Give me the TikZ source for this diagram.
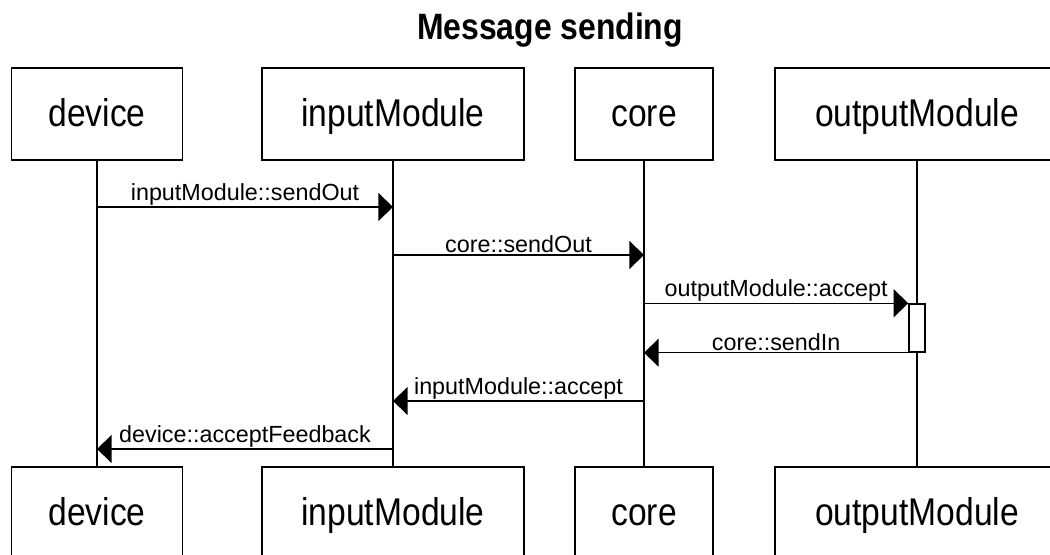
\documentclass[tikz,border=0pt]{standalone}
\usepackage{fontspec}
\setmainfont{Liberation Sans}
\newfontfamily\condfont[FakeStretch=0.87]{Liberation Sans}
\usetikzlibrary{arrows.meta}
\begin{document}
\begin{tikzpicture}[x=0.75pt,y=-0.75pt,
  actor/.style={draw, line width=1.1pt, minimum height=69pt, inner sep=0pt,
    font=\condfont\fontsize{29}{34}\selectfont, fill=white,
    text height=26pt, text depth=7pt},
  life/.style={line width=1.1pt},
  msg/.style={line width=1.1pt, -{Triangle[length=11pt,width=21pt]}},
  lbl/.style={font=\fontsize{17.5}{20}\selectfont, inner sep=1pt, anchor=south},
  act/.style={draw, fill=white, line width=1.1pt, minimum width=12pt,
    minimum height=36pt, inner sep=0pt},
  ]
\useasboundingbox (0,0) rectangle (1050,555);
\clip (0,0) rectangle (1050,555);
\node[font=\condfont\bfseries\fontsize{27.5}{32}\selectfont, inner sep=0pt, anchor=base] (title) at (550,40) {Message sending};
% top actors
\node[actor, minimum width=128.25pt] (devT) at (97,114) {device};
\node[actor, minimum width=196.5pt] (inT) at (393,114) {inputModule};
\node[actor, minimum width=103.5pt] (coreT) at (644,114) {core};
\node[actor, minimum width=213pt] (outT) at (917,114) {outputModule};
% bottom actors
\node[actor, minimum width=128.25pt] (devB) at (97,513) {device};
\node[actor, minimum width=196.5pt] (inB) at (393,513) {inputModule};
\node[actor, minimum width=103.5pt] (coreB) at (644,513) {core};
\node[actor, minimum width=213pt] (outB) at (917,513) {outputModule};
% lifelines
\draw[life] (devT.south) -- (devB.north);
\draw[life] (inT.south) -- (inB.north);
\draw[life] (coreT.south) -- (coreB.north);
\draw[life] (outT.south) -- (outB.north);
% activation
\node[act] (act) at (917,328) {};
% messages
\draw[msg] (devT |- 0,207) -- node[lbl] {inputModule::sendOut} (inT |- 0,207);
\draw[msg] (inT |- 0,255) -- node[lbl] {core::sendOut} (coreT |- 0,255);
\draw[msg] (coreT |- act.north west) -- node[lbl] {outputModule::accept} (act.north west);
\draw[msg] (act.south west) -- node[lbl] {core::sendIn} (coreT |- act.south west);
\draw[msg] (coreT |- 0,401) -- node[lbl] {inputModule::accept} (inT |- 0,401);
\draw[msg] (inT |- 0,449) -- node[lbl] {device::acceptFeedback} (devT |- 0,449);
\end{tikzpicture}
\end{document}
